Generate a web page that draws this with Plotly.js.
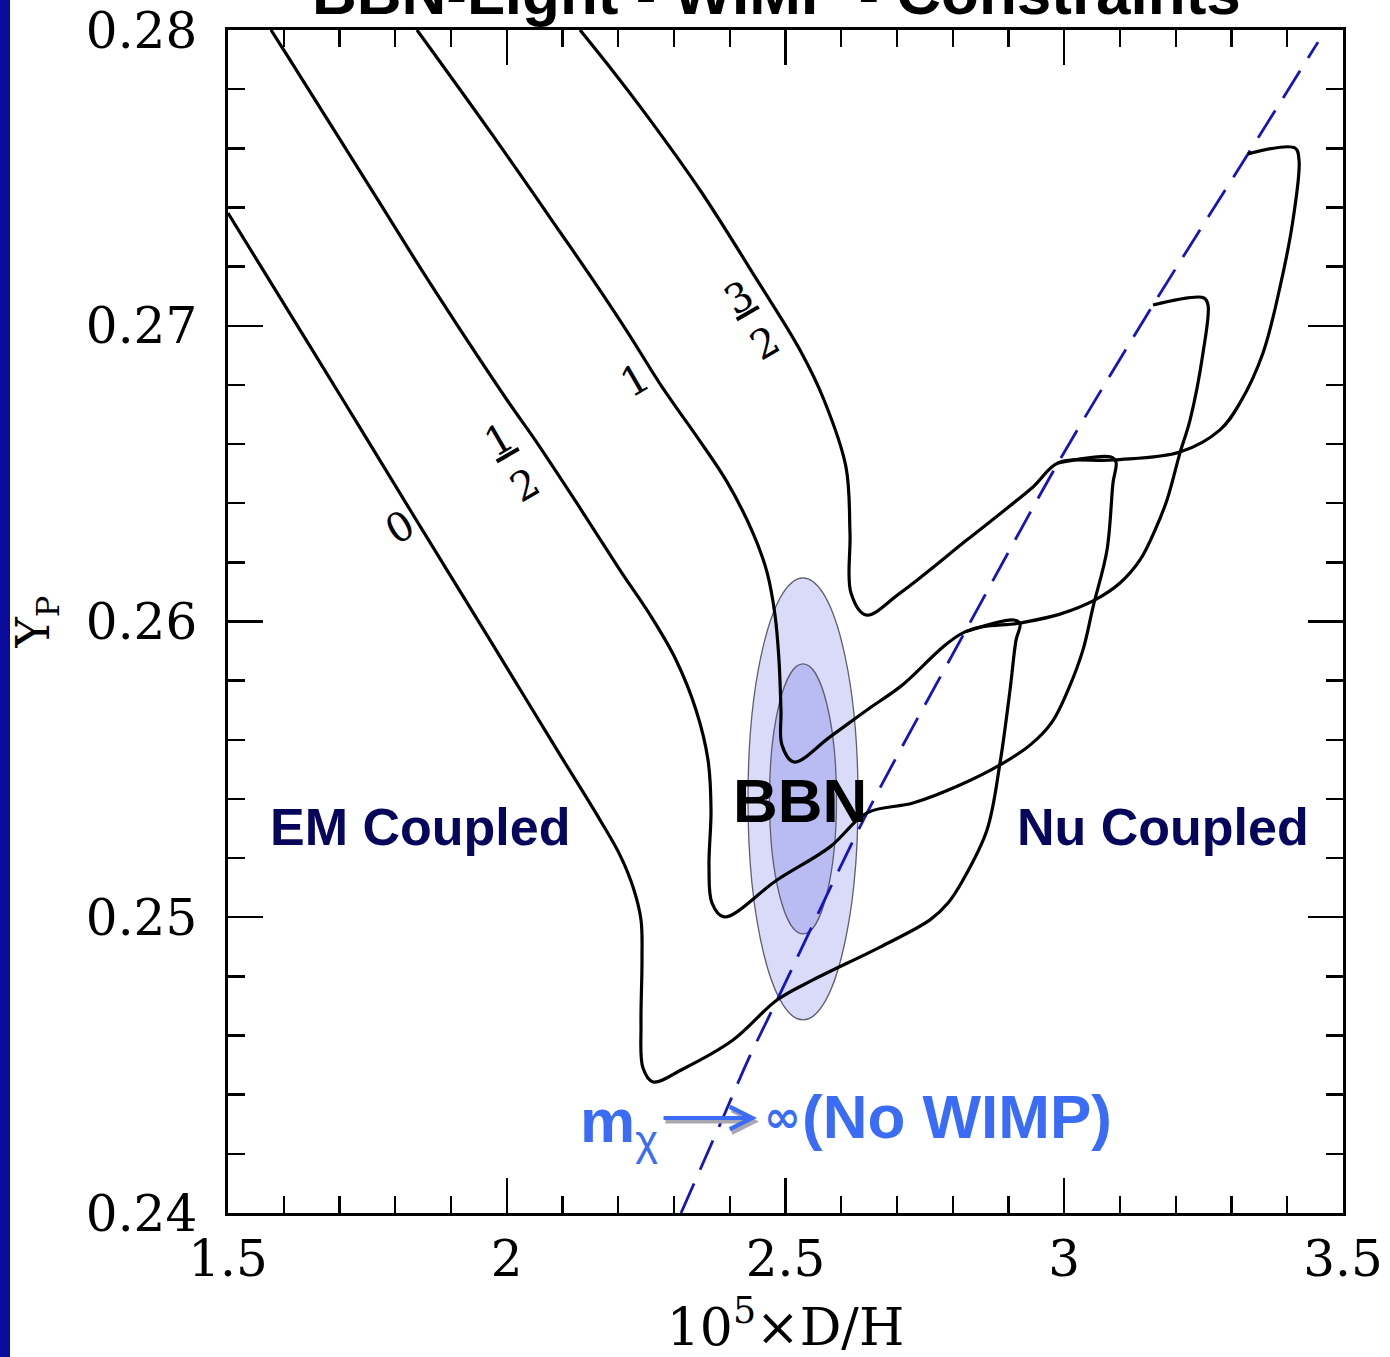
<!DOCTYPE html>
<html><head><meta charset="utf-8">
<script src="https://cdn.plot.ly/plotly-3.0.1.min.js"></script>
<style>
html,body{margin:0;padding:0;background:#fff;overflow:hidden;}
#strip{position:absolute;left:0;top:0;width:10px;height:1357px;background:#0a0a9c;z-index:5;}
#chart{width:1390px;height:1357px;}
</style></head><body>
<div id="strip"></div>
<div id="chart"></div>
<script>
// ---- data (D/H x 1e5, Y_P) ----
const curve0X = [1.5000,1.5628,1.7063,1.8300,1.8928,1.9700,2.0901,2.1673,2.2031,2.2265,2.2408,2.2426,2.2408,2.2444,2.2623,2.3161,2.4058,2.4848,2.5493,2.6695,2.7592,2.7915,2.8184,2.8614,2.8848,2.9027,2.9135,2.9206,2.9099,2.8220];
const curve0Y = [0.27381,0.27189,0.26749,0.26367,0.26174,0.25937,0.25566,0.25329,0.25210,0.25102,0.24991,0.24855,0.24639,0.24490,0.24443,0.24487,0.24585,0.24720,0.24788,0.24899,0.24991,0.25048,0.25126,0.25295,0.25522,0.25768,0.25937,0.25992,0.26005,0.25965];

const curveHalfX = [1.5771,1.6058,1.7691,1.8587,2.0005,2.0507,2.1278,2.2031,2.2605,2.3036,2.3395,2.3610,2.3664,2.3628,2.3682,2.3897,2.4848,2.5798,2.6462,2.7287,2.8130,2.8848,2.9386,2.9780,3.0067,3.0336,3.0516,3.0767,3.0874,3.0928,3.0839,2.9888];
const curveHalfY = [0.28000,0.27915,0.27425,0.27155,0.26749,0.26614,0.26394,0.26174,0.26012,0.25870,0.25701,0.25532,0.25363,0.25173,0.25048,0.25001,0.25126,0.25238,0.25353,0.25386,0.25447,0.25515,0.25582,0.25660,0.25768,0.25904,0.26049,0.26242,0.26468,0.26539,0.26556,0.26536];

const curve1X = [1.8390,1.9718,2.0955,2.1547,2.2175,2.2785,2.3413,2.3951,2.4417,2.4668,2.4812,2.4883,2.4919,2.4937,2.5152,2.5798,2.6462,2.7054,2.8220,2.9206,2.9924,3.0552,3.1000,3.1359,3.1628,3.1843,3.2076,3.2256,3.2489,3.2579,3.2507,3.1592];
const curve1Y = [0.28000,0.27652,0.27317,0.27155,0.26976,0.26793,0.26624,0.26472,0.26299,0.26167,0.26022,0.25870,0.25701,0.25582,0.25525,0.25610,0.25701,0.25779,0.25965,0.25995,0.26025,0.26073,0.26130,0.26208,0.26309,0.26411,0.26570,0.26681,0.26908,0.27070,0.27094,0.27070];

const curve32X = [2.1314,2.1888,2.2480,2.3466,2.4489,2.5260,2.5691,2.6085,2.6157,2.6175,2.6444,2.7054,2.8256,2.9439,2.9888,3.0874,3.2076,3.2794,3.3152,3.3565,3.3870,3.4103,3.4211,3.4139,3.3296];
const curve32Y = [0.28000,0.27865,0.27719,0.27459,0.27155,0.26918,0.26749,0.26522,0.26299,0.26096,0.26022,0.26096,0.26276,0.26455,0.26536,0.26546,0.26573,0.26648,0.26739,0.26908,0.27131,0.27358,0.27560,0.27601,0.27581];

const noWimpX = [2.3126,2.3915,2.4327,2.4848,2.6462,2.8220,2.9888,3.1592,3.3296,3.4552];
const noWimpY = [0.24000,0.24338,0.24517,0.24720,0.25353,0.25965,0.26536,0.27070,0.27581,0.27959];

// BBN allowed region: centre and 1- / 2-sigma half-widths
const bbnCentre = [2.5314, 0.25400];
const bbnInner  = [0.0601, 0.004565];
const bbnOuter  = [0.0987, 0.007473];

// curve labels
const labelText = ['0', '<u>1</u><br>2', '1', '<u>3</u><br>2'];
const labelX    = [1.8085, 2.0094, 2.2300, 2.4399];
const labelY    = [0.26320, 0.26539, 0.26817, 0.27019];

const xTickVals = [1.5, 2, 2.5, 3, 3.5];
const yTickVals = [0.24, 0.25, 0.26, 0.27, 0.28];

// ---- traces ----
const curveLine = {color: '#000000', width: 3.2, shape: 'spline', smoothing: 1};
const traces = [
  {x: noWimpX, y: noWimpY, mode: 'lines', line: {color: '#1515c0', width: 2.8, dash: '32px,15px', shape: 'spline', smoothing: 0.8}, name: 'No WIMP'},
  {x: curve0X, y: curve0Y, mode: 'lines', line: curveLine, name: '0'},
  {x: curveHalfX, y: curveHalfY, mode: 'lines', line: curveLine, name: '1/2'},
  {x: curve1X, y: curve1Y, mode: 'lines', line: curveLine, name: '1'},
  {x: curve32X, y: curve32Y, mode: 'lines', line: curveLine, name: '3/2'}
];

const shapes = [
  {type: 'circle', xref: 'x', yref: 'y', layer: 'below',
   x0: bbnCentre[0] - bbnOuter[0], x1: bbnCentre[0] + bbnOuter[0],
   y0: bbnCentre[1] - bbnOuter[1], y1: bbnCentre[1] + bbnOuter[1],
   fillcolor: '#d9dbf8', line: {color: '#5e5e6e', width: 1.3}},
  {type: 'circle', xref: 'x', yref: 'y', layer: 'below',
   x0: bbnCentre[0] - bbnInner[0], x1: bbnCentre[0] + bbnInner[0],
   y0: bbnCentre[1] - bbnInner[1], y1: bbnCentre[1] + bbnInner[1],
   fillcolor: '#b9bcf3', line: {color: '#5e5e6e', width: 1.3}}
];

const annotations = [];
for (let i = 0; i < labelText.length; i++) {
  annotations.push({x: labelX[i], y: labelY[i], xref: 'x', yref: 'y', text: labelText[i],
    showarrow: false, textangle: -30, font: {family: 'DejaVu Serif', size: 40, color: '#000'}});
}
annotations.push(
  {xref: 'paper', yref: 'paper', x: 0.4915, y: 1, yanchor: 'bottom', yshift: 1, showarrow: false,
   text: '<b>BBN-Light - WIMP - Constraints</b>', font: {family: 'Liberation Sans', size: 62, color: '#000'}},
  {x: 1.8444, y: 0.25305, xref: 'x', yref: 'y', showarrow: false, text: '<b>EM Coupled</b>',
   font: {family: 'Liberation Sans', size: 52, color: '#06065c'}},
  {x: 3.1771, y: 0.25305, xref: 'x', yref: 'y', showarrow: false, text: '<b>Nu Coupled</b>',
   font: {family: 'Liberation Sans', size: 52, color: '#06065c'}},
  {x: 2.526, y: 0.25396, xref: 'x', yref: 'y', showarrow: false, text: '<b>BBN</b>',
   font: {family: 'Liberation Sans', size: 62, color: '#000'}},
  // arrow shadow then arrow
  {x: 2.4525, y: 0.24309, xref: 'x', yref: 'y', text: '', showarrow: true, ax: -95, ay: 0,
   arrowhead: 5, arrowsize: 1.1, arrowwidth: 4, arrowcolor: '#a8a8b0', standoff: 0, startstandoff: 0},
  {x: 2.4489, y: 0.24321, xref: 'x', yref: 'y', text: '', showarrow: true, ax: -95, ay: 0,
   arrowhead: 5, arrowsize: 1.1, arrowwidth: 4, arrowcolor: '#3a6cf5', standoff: 0, startstandoff: 0},
  {x: 2.1278, y: 0.24298, xref: 'x', yref: 'y', xanchor: 'left', showarrow: false,
   text: '<b>m</b><sub>χ</sub>', font: {family: 'Liberation Sans', size: 62, color: '#3a6cf5'}},
  {x: 2.4955, y: 0.24325, xref: 'x', yref: 'y', showarrow: false,
   text: '<b>∞</b>', font: {family: 'DejaVu Sans', size: 44, color: '#3a6cf5'}},
  {x: 2.526, y: 0.24325, xref: 'x', yref: 'y', xanchor: 'left', showarrow: false,
   text: '<b>(No WIMP)</b>', font: {family: 'Liberation Sans', size: 62, color: '#3a6cf5'}}
);

const axisCommon = {
  showline: true, linecolor: '#000', linewidth: 2.8, mirror: 'ticks',
  ticks: 'inside', ticklen: 35, tickwidth: 2.4, tickcolor: '#000',
  showgrid: false, zeroline: false,
  tickfont: {family: 'DejaVu Serif', size: 50, color: '#000'}
};

const layout = {
  width: 1390, height: 1357,
  margin: {l: 228, r: 47, t: 30, b: 144, pad: 0},
  paper_bgcolor: '#ffffff', plot_bgcolor: '#ffffff',
  showlegend: false,
  xaxis: Object.assign({}, axisCommon, {
    range: [1.5, 3.5], tickvals: xTickVals, ticktext: xTickVals.map(String),
    ticklabelstandoff: 0,
    minor: {dtick: 0.1, tick0: 1.5, ticks: 'inside', ticklen: 17, tickwidth: 2.4, tickcolor: '#000', showgrid: false},
    title: {text: '10<sup>5</sup>×D/H', font: {family: 'DejaVu Serif', size: 52, color: '#000'}, standoff: 26}
  }),
  yaxis: Object.assign({}, axisCommon, {
    range: [0.24, 0.28], tickvals: yTickVals, ticktext: yTickVals.map(v => v.toFixed(2)),
    ticklabelstandoff: 18,
    minor: {dtick: 0.002, tick0: 0.24, ticks: 'inside', ticklen: 17, tickwidth: 2.4, tickcolor: '#000', showgrid: false},
    title: {text: 'Y<sub>P</sub>', font: {family: 'DejaVu Serif', size: 46, color: '#000'}, standoff: 22}
  }),
  shapes: shapes,
  annotations: annotations
};

Plotly.newPlot('chart', traces, layout, {staticPlot: true, displayModeBar: false});
</script>
</body></html>
